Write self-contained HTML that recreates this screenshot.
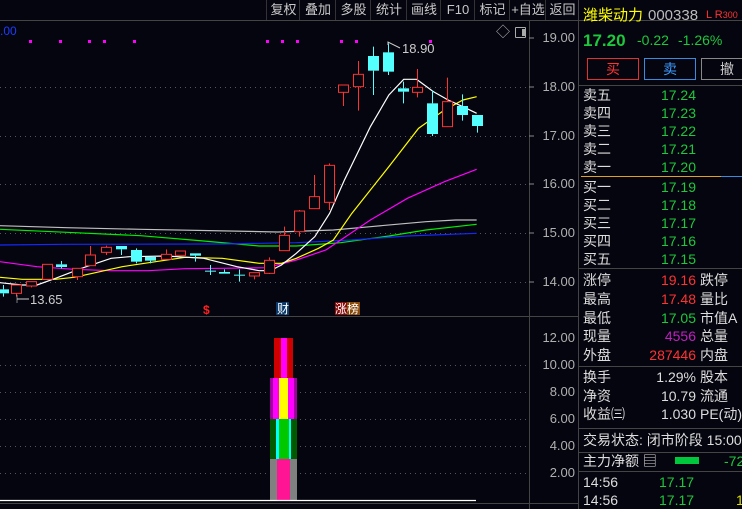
<!DOCTYPE html>
<html><head><meta charset="utf-8"><style>
body{margin:0;width:742px;height:509px;background:#05050f;overflow:hidden;position:relative;font-family:"Liberation Sans","Noto Sans CJK SC",sans-serif;}
.t{position:absolute;white-space:nowrap;font-size:13px;line-height:15px;}
.tb{position:absolute;top:0;height:20px;line-height:20px;font-size:13px;color:#c8c8c8;text-align:center;border-left:1px solid #333;}
.r{position:absolute;left:583px;font-size:14px;color:#ddd;white-space:nowrap;line-height:16px}
.v{position:absolute;right:46px;font-size:14px;color:#1ec83c;white-space:nowrap;line-height:16px;text-align:right}
.h{position:absolute;left:578px;width:164px;height:1px;background:#444}
.ax{position:absolute;right:167px;font-size:13px;color:#b0b0b0;line-height:14px}
</style></head><body>
<div style="position:absolute;left:0;top:20px;width:742px;height:1px;background:#444"></div>
<div class="tb" style="left:266px;width:33px">复权</div>
<div class="tb" style="left:299px;width:36px">叠加</div>
<div class="tb" style="left:335px;width:35px">多股</div>
<div class="tb" style="left:370px;width:36px">统计</div>
<div class="tb" style="left:406px;width:34px">画线</div>
<div class="tb" style="left:440px;width:34px">F10</div>
<div class="tb" style="left:474px;width:35px">标记</div>
<div class="tb" style="left:509px;width:36px">+自选</div>
<div class="tb" style="left:545px;width:33px">返回</div>
<div style="position:absolute;left:529px;top:21px;width:1px;height:488px;background:#444"></div>
<div style="position:absolute;left:578px;top:0;width:1px;height:509px;background:#444"></div>
<div style="position:absolute;left:0;top:316px;width:578px;height:1px;background:#444"></div>
<div style="position:absolute;left:0;top:503px;width:578px;height:1px;background:#444"></div>
<div class="t" style="left:0;top:24px;color:#1e3cff;font-size:12px">.00</div>
<div class="t" style="left:496px;top:25px;color:#aaa;font-size:14px">◇</div>
<div style="position:absolute;left:515px;top:27px;width:9px;height:9px;border:1px solid #aaa;border-radius:1px"><div style="position:absolute;right:0;top:1px;width:3px;height:7px;background:#aaa"></div></div>
<div class="ax" style="top:31px">19.00</div>
<div class="ax" style="top:80px">18.00</div>
<div class="ax" style="top:129px">17.00</div>
<div class="ax" style="top:177px">16.00</div>
<div class="ax" style="top:226px">15.00</div>
<div class="ax" style="top:275px">14.00</div>
<div class="ax" style="top:331px">12.00</div>
<div class="ax" style="top:358px">10.00</div>
<div class="ax" style="top:385px">8.00</div>
<div class="ax" style="top:412px">6.00</div>
<div class="ax" style="top:439px">4.00</div>
<div class="ax" style="top:466px">2.00</div>
<svg width="742" height="509" style="position:absolute;left:0;top:0">
<g stroke="#555" stroke-dasharray="1,4" stroke-width="1">
<line x1="0" x2="529" y1="87.5" y2="87.5"/><line x1="0" x2="529" y1="136.5" y2="136.5"/><line x1="0" x2="529" y1="184.5" y2="184.5"/><line x1="0" x2="529" y1="233.5" y2="233.5"/><line x1="0" x2="529" y1="282.5" y2="282.5"/>
<line x1="0" x2="529" y1="365.5" y2="365.5"/><line x1="0" x2="529" y1="392.5" y2="392.5"/><line x1="0" x2="529" y1="419.5" y2="419.5"/><line x1="0" x2="529" y1="446.5" y2="446.5"/><line x1="0" x2="529" y1="473.5" y2="473.5"/>
</g>
<g stroke="#888"><line x1="529" x2="534" y1="38" y2="38"/><line x1="529" x2="534" y1="87" y2="87"/><line x1="529" x2="534" y1="136" y2="136"/><line x1="529" x2="534" y1="184" y2="184"/><line x1="529" x2="534" y1="233" y2="233"/><line x1="529" x2="534" y1="282" y2="282"/></g>
<g fill="#ff00ff">
<rect x="29" y="40" width="3" height="3"/><rect x="59" y="40" width="3" height="3"/><rect x="88" y="40" width="3" height="3"/><rect x="103" y="40" width="3" height="3"/><rect x="133" y="40" width="3" height="3"/><rect x="266" y="40" width="3" height="3"/><rect x="281" y="40" width="3" height="3"/><rect x="296" y="40" width="3" height="3"/><rect x="340" y="40" width="3" height="3"/><rect x="355" y="40" width="3" height="3"/><rect x="429" y="40" width="3" height="3"/>
</g>
<g transform="scale(0.37037,0.33333)" fill="none" stroke-width="1.2">
<polyline vector-effect="non-scaling-stroke" stroke="#c0c0c0" points="0,677 180,683 380,688 620,693 750,696 900,690 1000,680 1150,665 1230,660 1287,660"/>
<polyline vector-effect="non-scaling-stroke" stroke="#00ee00" points="0,688 180,697 380,707 550,723 700,738 800,738 920,728 1050,708 1150,690 1287,673"/>
<polyline vector-effect="non-scaling-stroke" stroke="#1428ff" points="0,735 180,733 600,732 800,728 950,720 1100,708 1287,700"/>
<polyline vector-effect="non-scaling-stroke" stroke="#ff00ff" points="0,785 100,800 200,808 300,812 400,812 500,806 600,805 720,803 800,780 880,750 920,720 1000,660 1100,595 1200,545 1287,508"/>
<polyline vector-effect="non-scaling-stroke" stroke="#ffff00" points="0,832 60,838 150,838 200,832 250,820 330,800 420,785 500,772 600,775 700,790 760,790 800,775 860,745 900,720 950,640 1050,500 1130,385 1200,330 1250,300 1287,290"/>
<polyline vector-effect="non-scaling-stroke" stroke="#ffffff" points="0,848 60,855 100,855 150,835 220,805 300,775 350,770 450,768 550,775 640,800 700,812 730,812 760,795 800,760 850,710 890,640 930,540 1000,380 1050,285 1090,238 1125,238 1170,275 1210,300 1250,320 1287,340"/>
<g id="c" vector-effect="non-scaling-stroke"></g>
</g>
<g id="cand"></g>
<text x="402" y="53" fill="#ccc" font-size="13" font-family="Liberation Sans">18.90</text>
<polyline points="388,45 388,42 400,48" fill="none" stroke="#ccc"/>
<text x="30" y="304" fill="#ccc" font-size="13" font-family="Liberation Sans">13.65</text>
<line x1="17" y1="299" x2="29" y2="299" stroke="#ccc"/><line x1="17" y1="295" x2="17" y2="303" stroke="#ccc" stroke-width="0.6"/>
<text x="203" y="314" fill="#ff2020" font-size="12" font-weight="bold" font-family="Liberation Sans">$</text>
<rect x="276" y="302" width="13" height="13" fill="#0a3a6a"/><text x="277" y="313" fill="#fff" font-size="12" font-family="Noto Sans CJK SC">财</text>
<rect x="335" y="302" width="12" height="13" fill="#8a0a0a"/><rect x="347" y="302" width="13" height="13" fill="#8a4a0a"/><text x="335" y="313" fill="#fff" font-size="12" font-family="Noto Sans CJK SC">涨榜</text>
<rect x="274" y="338" width="19" height="40" fill="#d00000"/><rect x="281" y="338" width="6" height="40" fill="#ff00ff"/>
<rect x="270" y="378" width="27" height="41" fill="#a000a0"/><rect x="273" y="378" width="21" height="41" fill="#ff00ff"/><rect x="279" y="378" width="9" height="41" fill="#ffff00"/>
<rect x="270" y="419" width="27" height="40" fill="#005a00"/><rect x="276" y="419" width="15" height="40" fill="#00ffff"/><rect x="279" y="419" width="10" height="40" fill="#00c800"/>
<rect x="270" y="459" width="27" height="42" fill="#808080"/><rect x="277" y="459" width="13" height="42" fill="#ff1493"/>
<line x1="0" y1="500.5" x2="476" y2="500.5" stroke="#fff" stroke-width="1.2"/>
</svg>
<script>
var C=[[8,868,880,855,890,0],[44,855,880,855,890,1],[84,845,858,845,862,1],[126,793,838,793,838,1],[165,793,801,783,805,0],[207,805,830,805,840,1],[244,765,797,738,797,1],[285,742,757,737,765,1],[326,738,748,738,765,0],[366,750,785,745,790,0],[406,771,782,771,790,0],[448,763,778,748,778,1],[485,753,766,753,766,1],[526,760,767,760,785,0],[566,812,814,795,825,0],[606,816,821,808,821,0],[646,824,826,808,845,0],[685,818,828,818,838,1],[726,781,820,772,822,1],[766,706,752,680,752,1],[807,633,695,630,710,1],[847,590,626,525,626,1],[888,496,607,490,630,1],[926,255,277,255,318,1],[966,223,260,183,332,1],[1006,168,212,140,285,0],[1047,157,215,130,225,0],[1088,265,275,245,310,0],[1126,262,277,207,292,1],[1166,310,402,272,408,0],[1206,305,380,233,380,1],[1247,318,345,283,362,0],[1287,345,378,345,398,0]];
var s='';C.forEach(function(c){var x=(c[0]/2.7),t=c[1]/3,b=c[2]/3,h=c[3]/3,l=c[4]/3,col=c[5]?'#ff3232':'#54ffff';var xr=Math.round(x)+0.5;
s+='<line x1="'+xr+'" x2="'+xr+'" y1="'+h+'" y2="'+t+'" stroke="'+col+'"/><line x1="'+xr+'" x2="'+xr+'" y1="'+b+'" y2="'+l+'" stroke="'+col+'"/>';
if(c[5])s+='<rect x="'+(xr-5)+'" y="'+t+'" width="10" height="'+Math.max(b-t,1)+'" fill="#05050f" stroke="'+col+'"/>';
else s+='<rect x="'+(xr-5.5)+'" y="'+t+'" width="11" height="'+Math.max(b-t,1)+'" fill="'+col+'"/>';});
document.getElementById('cand').innerHTML=s;
</script>
<div class="t" style="left:583px;top:7px;font-size:15px;color:#ffff00;line-height:17px">潍柴动力</div>
<div class="t" style="left:648px;top:7px;font-size:15px;color:#bbb;line-height:17px">000338</div>
<div class="t" style="left:706px;top:8px;font-size:11px;color:#ff3232">L R<span style="font-size:9px">300</span></div>
<div class="t" style="left:583px;top:31px;font-size:17px;font-weight:bold;color:#1ec83c;line-height:20px">17.20</div>
<div class="t" style="left:637px;top:33px;font-size:14px;color:#1ec83c">-0.22</div>
<div class="t" style="left:678px;top:33px;font-size:14px;color:#1ec83c">-1.26%</div>
<div style="position:absolute;left:587px;top:58px;width:50px;height:20px;border:1px solid #e03030;color:#ff3232;text-align:center;line-height:20px;font-size:14px">买</div>
<div style="position:absolute;left:644px;top:58px;width:50px;height:20px;border:1px solid #3a8ae0;color:#3a9aff;text-align:center;line-height:20px;font-size:14px">卖</div>
<div style="position:absolute;left:701px;top:58px;width:50px;height:20px;border:1px solid #888;color:#ccc;text-align:center;line-height:20px;font-size:14px">撤</div>
<div class="h" style="top:85px"></div>
<div class="r" style="top:87px">卖五</div><div class="v" style="top:87px">17.24</div>
<div class="r" style="top:105px">卖四</div><div class="v" style="top:105px">17.23</div>
<div class="r" style="top:123px">卖三</div><div class="v" style="top:123px">17.22</div>
<div class="r" style="top:141px">卖二</div><div class="v" style="top:141px">17.21</div>
<div class="r" style="top:159px">卖一</div><div class="v" style="top:159px">17.20</div>
<div style="position:absolute;left:581px;top:176px;width:140px;height:1px;background:#e0a020"></div><div style="position:absolute;left:721px;top:176px;width:21px;height:1px;background:#3a8ae0"></div>
<div class="r" style="top:179px">买一</div><div class="v" style="top:179px">17.19</div>
<div class="r" style="top:197px">买二</div><div class="v" style="top:197px">17.18</div>
<div class="r" style="top:215px">买三</div><div class="v" style="top:215px">17.17</div>
<div class="r" style="top:233px">买四</div><div class="v" style="top:233px">17.16</div>
<div class="r" style="top:251px">买五</div><div class="v" style="top:251px">17.15</div>
<div class="h" style="top:268px"></div>
<div class="r" style="top:272px">涨停</div><div class="v" style="top:272px;color:#ff3232">19.16</div><div class="r" style="top:272px;left:700px">跌停</div>
<div class="r" style="top:291px">最高</div><div class="v" style="top:291px;color:#ff3232">17.48</div><div class="r" style="top:291px;left:700px">量比</div>
<div class="r" style="top:310px">最低</div><div class="v" style="top:310px">17.05</div><div class="r" style="top:310px;left:700px">市值A</div>
<div class="r" style="top:328px">现量</div><div class="v" style="top:328px;color:#c020c0">4556</div><div class="r" style="top:328px;left:700px">总量</div>
<div class="r" style="top:347px">外盘</div><div class="v" style="top:347px;color:#ff3232">287446</div><div class="r" style="top:347px;left:700px">内盘</div>
<div class="h" style="top:366px"></div>
<div class="r" style="top:369px">换手</div><div class="v" style="top:369px;color:#ddd">1.29%</div><div class="r" style="top:369px;left:700px">股本</div>
<div class="r" style="top:388px">净资</div><div class="v" style="top:388px;color:#ddd">10.79</div><div class="r" style="top:388px;left:700px">流通</div>
<div class="r" style="top:406px">收益㈢</div><div class="v" style="top:406px;color:#ddd">1.030</div><div class="r" style="top:406px;left:700px">PE(动)</div>
<div class="h" style="top:428px"></div>
<div class="r" style="top:432px">交易状态: 闭市阶段 15:00:</div>
<div class="h" style="top:452px"></div>
<div class="r" style="top:453px">主力净额 ▤</div>
<div style="position:absolute;left:675px;top:457px;width:24px;height:7px;background:#00c83c"></div>
<div class="r" style="top:453px;left:724px;color:#1ec83c">-72</div>
<div class="h" style="top:471px"></div>
<div class="r" style="top:474px">14:56</div><div class="r" style="top:474px;left:659px;color:#1ec83c">17.17</div>
<div class="r" style="top:492px">14:56</div><div class="r" style="top:492px;left:659px;color:#1ec83c">17.17</div><div class="r" style="top:492px;left:736px;color:#e0e000">1</div>
</body></html>
